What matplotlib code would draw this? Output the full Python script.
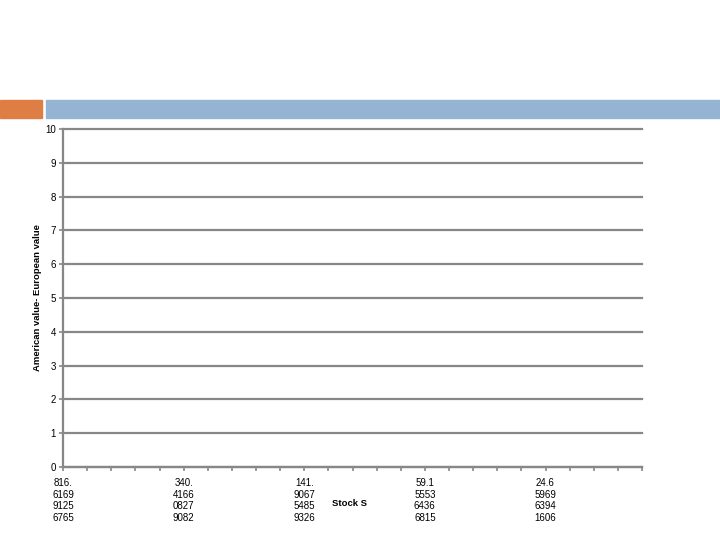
import matplotlib
matplotlib.use("Agg")
import matplotlib.pyplot as plt
from matplotlib.patches import Rectangle

plt.rcParams["font.family"] = ["Liberation Sans", "DejaVu Sans"]

# category axis: 25 stock prices, labelled every 5th (Excel wraps the long numbers)
n_categories = 25
label_positions = [0, 5, 10, 15, 20]
label_texts = [
    "816.\n6169\n9125\n6765",
    "340.\n4166\n0827\n9082",
    "141.\n9067\n5485\n9326",
    "59.1\n5553\n6436\n6815",
    "24.6\n5969\n6394\n1606",
]
y_ticks = list(range(0, 11))

GRID = "#878787"

fig = plt.figure(figsize=(7.2, 5.4), dpi=100)

# slide header bars
fig.patches.append(Rectangle((0, 1 - 118 / 540), 42 / 720, 18 / 540,
                             transform=fig.transFigure, color="#DE7E44", zorder=0))
fig.patches.append(Rectangle((46 / 720, 1 - 118 / 540), 674 / 720, 18 / 540,
                             transform=fig.transFigure, color="#95B4D3", zorder=0))

ax = fig.add_axes([63 / 720, 73 / 540, 579 / 720, 338 / 540])
ax.set_xlim(0, n_categories - 1)
ax.set_ylim(0, 10)
ax.set_yticks(y_ticks)
ax.set_yticklabels([str(v) for v in y_ticks], fontsize=7)
ax.yaxis.grid(True, color=GRID, linewidth=1.6)
for gl in ax.get_ygridlines():
    gl.set_clip_on(False)
ax.set_axisbelow(True)

ax.set_xticks(range(n_categories))
ax.set_xticklabels([""] * n_categories)
for pos, txt in zip(label_positions, label_texts):
    ax.text(pos, -0.32, txt, ha="center", va="top", fontsize=7,
            linespacing=1.22, transform=ax.transData)

for side in ("top", "right"):
    ax.spines[side].set_visible(False)
for side in ("left", "bottom"):
    ax.spines[side].set_color(GRID)
    ax.spines[side].set_linewidth(1.6)
ax.tick_params(axis="both", colors=GRID, length=3, width=1.2, labelcolor="black", pad=2)

fig.text(38 / 720, 1 - 298 / 540, "American value- European value", rotation=90,
         ha="center", va="center", fontsize=6.8, fontweight="bold")
fig.text(350 / 720, 1 - 504 / 540, "Stock S", ha="center", va="center",
         fontsize=6.8, fontweight="bold")

fig.savefig("out.png", dpi=100)
